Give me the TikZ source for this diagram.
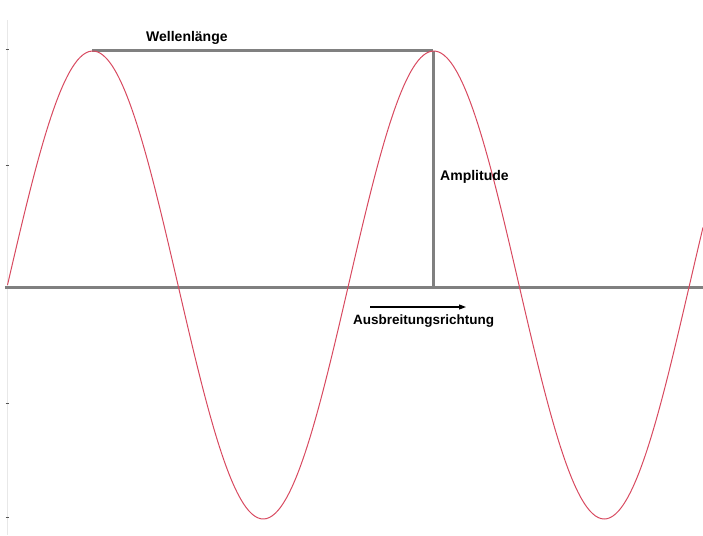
\documentclass[tikz,border=0pt]{standalone}
\usepackage{fontspec}
\setmainfont{Liberation Sans}
\usetikzlibrary{arrows.meta}
\definecolor{wavered}{HTML}{D84A60}
\definecolor{axisgray}{HTML}{808080}
\definecolor{faintgray}{HTML}{E8E8E8}
\definecolor{tickgray}{HTML}{555555}

\begin{document}
\begin{tikzpicture}[
      x=1pt, y=-1pt,
      guide/.style={line width=3pt, axisgray},
      wave/.style={line width=1pt, wavered},
      arrow/.style={-{Triangle[length=7pt,width=5pt]}, line width=1.1pt, black},
      label/.style={font=\bfseries\fontsize{14}{14}\selectfont, inner sep=0pt}
    ]
      \useasboundingbox (0,0) rectangle (703,535);

      % Left frame with ticks
      \draw[faintgray, line width=0.8pt] (7,20) -- (7,535);
      \foreach \t in {50,165,403,517}
        \draw[tickgray, line width=1pt] (5.5,\t) -- (8.5,\t);

      % Key points
      \coordinate (axisL) at (5,287);
      \coordinate (axisR) at (703,287);
      \coordinate (peakA) at (92,51);
      \coordinate (peakB) at (433,51);
      \coordinate (footB) at (433,287);
      \coordinate (arrowS) at (370,307);
      \coordinate (arrowE) at (466,307);

      % Guide lines
      \draw[guide] (axisL) -- (axisR);
      \draw[guide] (peakA) -- (peakB);
      \draw[guide] (peakB) -- (footB);

      % Wave
      \draw[wave] plot[domain=7.5:703, samples=240, smooth]
        (\x, {285 - 234*sin(1.05572*(\x-7.5))});

      % Labels
      \node[label, anchor=west] (wl) at (146,38) {Wellenlänge};
      \node[label, anchor=west] (amp) at (440,177) {Amplitude};
      \node[label, anchor=west, font=\bfseries\fontsize{13.5}{13.5}\selectfont] (dir) at (353,321) {Ausbreitungsrichtung};

      % Direction arrow
      \draw[arrow] (arrowS) -- (arrowE);
    \end{tikzpicture}
\end{document}
